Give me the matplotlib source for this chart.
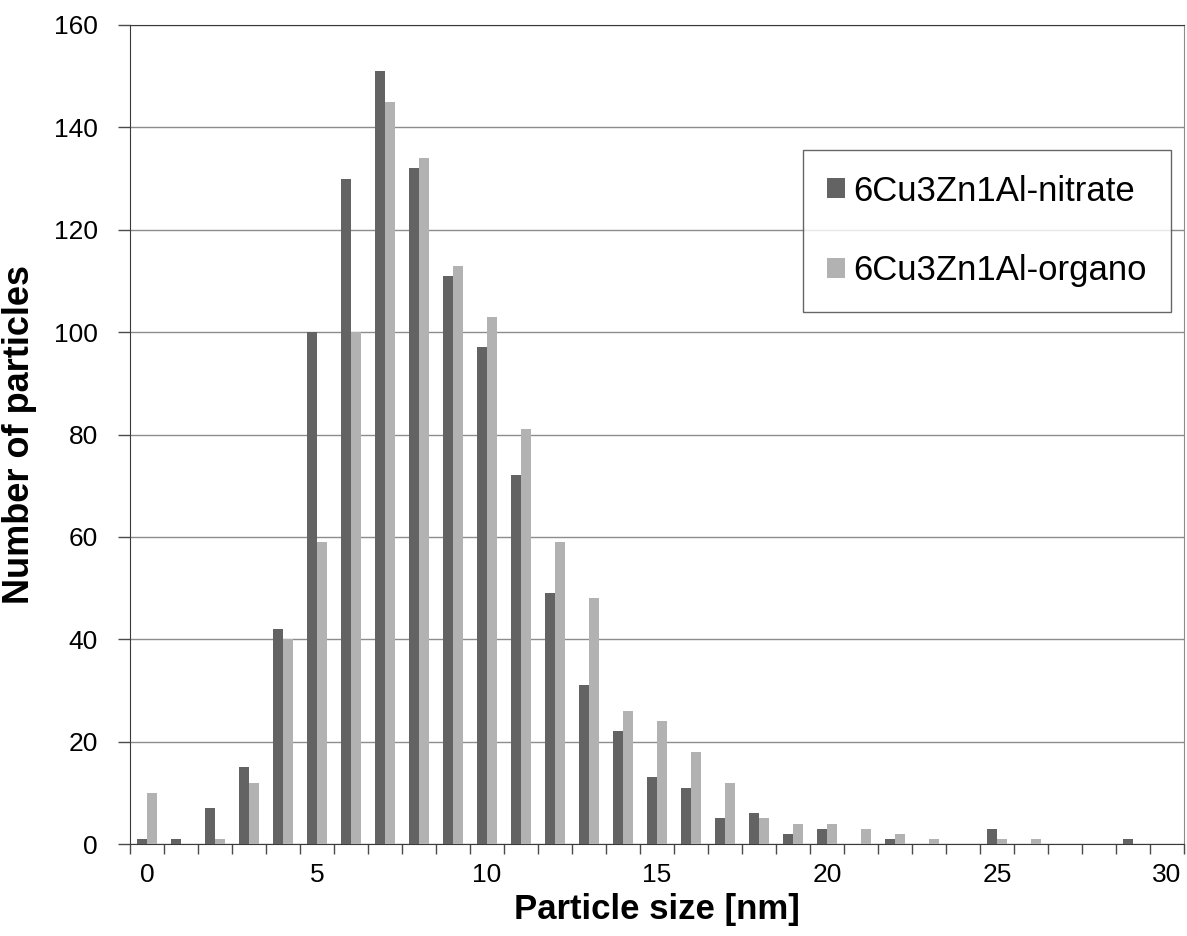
import numpy as np
import matplotlib
matplotlib.use("Agg")
import matplotlib.pyplot as plt
from matplotlib.ticker import FixedLocator, NullFormatter

plt.rcParams['font.family'] = ['Liberation Sans', 'DejaVu Sans']

# particle size categories (nm)
sizes = list(range(0, 31))
nitrate = [1, 1, 7, 15, 42, 100, 130, 151, 132, 111, 97, 72, 49, 31, 22, 13,
           11, 5, 6, 2, 3, 0, 1, 0, 0, 3, 0, 0, 0, 1, 0]
organo = [10, 0, 1, 12, 40, 59, 100, 145, 134, 113, 103, 81, 59, 48, 26, 24,
          18, 12, 5, 4, 4, 3, 2, 1, 0, 1, 1, 0, 0, 0, 0]
labels = ['6Cu3Zn1Al-nitrate', '6Cu3Zn1Al-organo']
colors = ['#636363', '#b2b2b2']

fig = plt.figure(figsize=(11.87, 9.36), dpi=100)
ax = fig.add_axes([130 / 1187, 92 / 936, 1054 / 1187, 819 / 936])

x = np.arange(len(sizes))
w = 0.286
ax.bar(x - w / 2, nitrate, w, color=colors[0], label=labels[0], zorder=3)
ax.bar(x + w / 2, organo, w, color=colors[1], label=labels[1], zorder=3)

ax.set_xlim(-0.5, len(sizes) - 0.5)
ax.set_ylim(0, 160)
ax.set_yticks(range(0, 161, 20))
ax.yaxis.grid(True, color='#8c8c8c', linewidth=1.0, zorder=0)

# category labels every 5, tick marks at category boundaries
ax.set_xticks([s for s in sizes if s % 5 == 0])
ax.set_xticklabels([str(s) for s in sizes if s % 5 == 0])
ax.tick_params(axis='x', length=0, pad=14, labelsize=19)
ax.xaxis.set_minor_locator(FixedLocator(np.arange(-0.5, len(sizes), 1)))
ax.xaxis.set_minor_formatter(NullFormatter())
ax.tick_params(axis='x', which='minor', length=7, width=1, color='#4a4a4a')
ax.tick_params(axis='y', length=9, width=1, color='#4a4a4a', labelsize=19, pad=14)

for side in ['left', 'bottom', 'top']:
    ax.spines[side].set_color('#3a3a3a')
ax.spines['right'].set_color('#8c8c8c')

ax.set_xlabel('Particle size [nm]', fontsize=25, fontweight='bold', labelpad=4)
ax.set_ylabel('Number of particles', fontsize=26, fontweight='bold', labelpad=12)

leg = ax.legend(loc='upper left', bbox_to_anchor=(0.6385, 0.847), fontsize=25,
                frameon=True, fancybox=False, edgecolor='#404040',
                handlelength=0.5, handleheight=0.5, handletextpad=0.25,
                labelspacing=1.35, borderpad=0.7, borderaxespad=0)
leg.get_frame().set_linewidth(1.0)

fig.savefig('out.png', dpi=100)
